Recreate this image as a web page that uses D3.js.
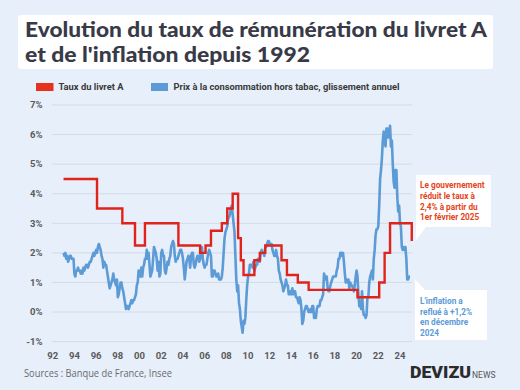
<!DOCTYPE html>
<html><head><meta charset="utf-8">
<script src="https://cdn.jsdelivr.net/npm/d3@7"></script>
<style>body{margin:0;background:#e7effb;} svg{display:block}</style>
</head><body><svg id="c" width="520" height="390"></svg>
<script>
// ---------- DATA ----------
const titleLines = ["Evolution du taux de rémunération du livret A", "et de l'inflation depuis 1992"];
const legendLabels = ["Taux du livret A", "Prix à la consommation hors tabac, glissement annuel"];
const yTickValues = [-1, 0, 1, 2, 3, 4, 5, 6, 7];
const xTickYears = [1992, 1994, 1996, 1998, 2000, 2002, 2004, 2006, 2008, 2010, 2012, 2014, 2016, 2018, 2020, 2022, 2024];
const xTickLabels = ["92", "94", "96", "98", "00", "02", "04", "06", "08", "10", "12", "14", "16", "18", "20", "22", "24"];

// Livret A rate: date of change (YYYY-MM) and new rate (%)
const rateDates = ["1993-01", "1996-02", "1998-06", "1999-08", "2000-07", "2003-08", "2005-08", "2006-02", "2006-08", "2007-08",
  "2008-02", "2008-08", "2009-02", "2009-05", "2009-08", "2010-08", "2011-02", "2011-08", "2013-02", "2013-08",
  "2014-08", "2015-08", "2020-02", "2022-02", "2022-08", "2023-02", "2025-02"];
const rateValues = [4.5, 3.5, 3.0, 2.25, 3.0, 2.25, 2.0, 2.25, 2.75, 3.0,
  3.5, 4.0, 2.5, 1.75, 1.25, 1.75, 2.0, 2.25, 1.75, 1.25,
  1.0, 0.75, 0.5, 1.0, 2.0, 3.0, 2.4];

// CPI excluding tobacco, year-on-year (%), monthly from January 1993
const inflationStart = "1993-01";
const inflationValues = [
  /*1993*/ 2.0, 1.9, 2.0, 1.8, 1.9, 1.7, 1.8, 1.9, 1.9, 1.8, 1.8, 1.8,
  /*1994*/ 1.3, 1.2, 1.4, 1.4, 1.5, 1.4, 1.4, 1.3, 1.4, 1.3, 1.5, 1.4,
  /*1995*/ 1.5, 1.6, 1.6, 1.5, 1.6, 1.7, 1.7, 1.8, 1.9, 2.0, 1.9, 2.0,
  /*1996*/ 2.1, 2.0, 2.2, 2.3, 2.2, 2.1, 1.9, 1.8, 1.5, 1.7, 1.6, 1.6,
  /*1997*/ 1.4, 1.2, 1.0, 0.8, 0.9, 1.0, 1.1, 1.3, 1.1, 1.0, 0.9, 1.1,
  /*1998*/ 0.5, 0.6, 0.8, 1.0, 1.0, 0.8, 0.7, 0.5, 0.3, 0.1, 0.2, 0.2,
  /*1999*/ 0.1, 0.2, 0.3, 0.4, 0.3, 0.4, 0.4, 0.5, 0.6, 0.9, 1.0, 1.4,
  /*2000*/ 1.3, 1.2, 1.5, 1.2, 1.5, 1.6, 1.8, 1.8, 2.1, 1.8, 2.0, 1.6,
  /*2001*/ 1.2, 1.3, 1.4, 1.8, 2.2, 2.1, 2.0, 1.8, 1.4, 1.7, 1.2, 1.3,
  /*2002*/ 2.0, 2.1, 1.9, 1.9, 1.4, 1.3, 1.5, 1.7, 1.6, 1.8, 1.9, 2.2,
  /*2003*/ 2.3, 2.4, 2.3, 1.9, 1.7, 1.8, 1.8, 1.9, 2.0, 2.1, 2.1, 2.0,
  /*2004*/ 1.8, 1.5, 1.1, 1.4, 1.7, 1.8, 1.9, 1.8, 1.5, 1.9, 2.0, 2.0,
  /*2005*/ 1.6, 1.5, 1.6, 1.8, 1.9, 1.9, 1.7, 1.8, 2.1, 2.2, 1.8, 1.6,
  /*2006*/ 1.5, 1.6, 1.6, 1.8, 2.0, 2.1, 2.0, 1.9, 1.2, 1.2, 1.4, 1.4,
  /*2007*/ 1.3, 1.2, 1.2, 1.3, 1.1, 1.1, 1.1, 1.2, 1.5, 2.0, 2.5, 2.7,
  /*2008*/ 2.8, 2.9, 3.2, 3.2, 3.3, 3.5, 3.6, 3.3, 3.0, 2.7, 1.9, 1.1,
  /*2009*/ 0.7, 0.9, 0.3, 0.1, -0.3, -0.5, -0.7, -0.3, -0.4, -0.2, 0.4, 0.9,
  /*2010*/ 1.2, 1.3, 1.6, 1.6, 1.6, 1.5, 1.7, 1.4, 1.5, 1.6, 1.6, 1.8,
  /*2011*/ 1.8, 1.7, 2.0, 2.1, 2.0, 2.0, 1.9, 2.2, 2.2, 2.3, 2.4, 2.4,
  /*2012*/ 2.3, 2.3, 2.3, 2.1, 2.0, 1.9, 1.9, 2.1, 1.9, 1.8, 1.4, 1.3,
  /*2013*/ 1.1, 1.0, 0.9, 0.7, 0.8, 0.9, 1.1, 0.9, 0.9, 0.6, 0.6, 0.7,
  /*2014*/ 0.6, 0.8, 0.6, 0.7, 0.7, 0.5, 0.5, 0.4, 0.3, 0.5, 0.4, 0.1,
  /*2015*/ -0.4, -0.3, 0.0, 0.1, 0.2, 0.2, 0.1, 0.0, 0.0, 0.1, 0.0, 0.2,
  /*2016*/ 0.2, -0.2, -0.1, -0.2, 0.1, 0.2, 0.2, 0.2, 0.4, 0.4, 0.5, 0.6,
  /*2017*/ 1.3, 1.2, 1.1, 1.2, 0.8, 0.7, 0.7, 0.9, 1.0, 1.1, 1.2, 1.2,
  /*2018*/ 1.2, 1.2, 1.4, 1.5, 1.8, 1.8, 2.0, 2.0, 1.9, 2.0, 1.7, 1.3,
  /*2019*/ 1.0, 1.1, 1.0, 1.1, 0.8, 1.0, 0.9, 0.9, 0.8, 0.7, 0.9, 1.2,
  /*2020*/ 1.4, 1.2, 0.6, 0.2, 0.3, 0.1, 0.7, 0.1, -0.1, -0.1, -0.2, -0.1,
  /*2021*/ 0.5, 0.5, 1.0, 1.2, 1.3, 1.4, 1.1, 1.8, 2.1, 2.6, 2.8, 2.8,
  /*2022*/ 2.9, 3.6, 4.5, 4.8, 5.2, 5.8, 6.1, 5.8, 5.6, 6.2, 6.2, 5.9,
  /*2023*/ 6.0, 6.3, 5.6, 5.8, 5.0, 4.4, 4.2, 4.8, 4.8, 3.9, 3.4, 3.6,
  /*2024*/ 3.0, 2.9, 2.2, 2.1, 2.2, 2.1, 2.2, 1.8, 1.1, 1.1, 1.2, 1.2
];

const noteRed = ["Le gouvernement", "réduit le taux à", "2,4% à partir du", "1er février 2025"];
const noteBlue = ["L'inflation a", "reflué à +1,2%", "en décembre", "2024"];
const sourceText = "Sources : Banque de France, Insee";

// ---------- DRAW ----------
const RED = "#e0231b", BLUE = "#5c9bd6";
const toYear = s => { const [y, m] = s.split("-").map(Number); return y + (m - 1) / 12; };
const svg = d3.select("#c");

svg.append("rect").attr("width", 520).attr("height", 390).attr("fill", "#e7effb");

// title box
svg.append("rect").attr("x", 18).attr("y", 15).attr("width", 475).attr("height", 54).attr("rx", 3).attr("fill", "#ffffff");
const titleWidths = [462, 285];
svg.selectAll("text.title").data(titleLines).join("text")
  .attr("x", 25).attr("y", (d, i) => 37 + i * 24.5)
  .attr("font-family", "Lato").attr("font-weight", 900).attr("font-size", 20)
  .attr("textLength", (d, i) => titleWidths[i]).attr("lengthAdjust", "spacingAndGlyphs")
  .attr("fill", "#393a48").text(d => d);

// legend
const lg = svg.append("g").attr("font-family", "Roboto").attr("font-weight", 700).attr("font-size", 9.5).attr("fill", "#3a3a3a");
lg.append("rect").attr("x", 36).attr("y", 83).attr("width", 17.5).attr("height", 8).attr("fill", "#e8311c");
lg.append("text").attr("x", 58.5).attr("y", 90.3).attr("textLength", 65).attr("lengthAdjust", "spacingAndGlyphs").text(legendLabels[0]);
lg.append("rect").attr("x", 151).attr("y", 83).attr("width", 17).attr("height", 8).attr("fill", BLUE);
lg.append("text").attr("x", 173.5).attr("y", 90.3).attr("textLength", 226).attr("lengthAdjust", "spacingAndGlyphs").text(legendLabels[1]);

// scales
const x = d3.scaleLinear().domain([1992, 2024]).range([52.7, 400]);
const y = d3.scaleLinear().domain([-1, 7]).range([341.6, 105]);

// grid
svg.append("g").selectAll("line").data(yTickValues).join("line")
  .attr("x1", 52).attr("x2", 412).attr("y1", d => y(d)).attr("y2", d => y(d))
  .attr("stroke", "#d3dbe7").attr("stroke-width", 1);

// y labels
svg.append("g").selectAll("text").data(yTickValues).join("text")
  .attr("x", 42.5).attr("y", d => y(d) + 3.3).attr("text-anchor", "end")
  .attr("font-family", "Roboto").attr("font-weight", 700).attr("font-size", 9.5).attr("fill", "#5a5a5a")
  .text(d => d + "%");

// x labels
svg.append("g").selectAll("text").data(xTickYears).join("text")
  .attr("x", d => x(d)).attr("y", 358.5).attr("text-anchor", "middle")
  .attr("font-family", "Roboto").attr("font-weight", 700).attr("font-size", 9.5).attr("fill", "#5a5a5a")
  .text((d, i) => xTickLabels[i]);

// inflation line
const t0 = toYear(inflationStart);
const infl = inflationValues.map((v, i) => ({ t: t0 + i / 12, v }));
svg.append("path").datum(infl)
  .attr("d", d3.line().x(d => x(d.t)).y(d => y(d.v)))
  .attr("fill", "none").attr("stroke", BLUE).attr("stroke-width", 2.6).attr("stroke-linejoin", "round");

// livret A line
const rate = rateDates.map((s, i) => ({ t: toYear(s), v: rateValues[i] }));
svg.append("path").datum(rate)
  .attr("d", d3.line().x(d => x(d.t)).y(d => y(d.v)).curve(d3.curveStepAfter))
  .attr("fill", "none").attr("stroke", RED).attr("stroke-width", 2.4);

// annotation red
svg.append("path")
  .attr("d", "M416,175 H491 V227 H426 L415.5,241 L416,227 Z")
  .attr("fill", "#ffffff");
svg.append("g").attr("transform", "translate(420,0) scale(0.86,1)")
  .selectAll("text").data(noteRed).join("text")
  .attr("x", 0).attr("y", (d, i) => 188.5 + i * 10.6)
  .attr("font-family", "Roboto").attr("font-weight", 700).attr("font-size", 9.6).attr("fill", "#e5441a")
  .text(d => d);

// annotation blue
svg.append("path")
  .attr("d", "M415,290 V279 L425,290 H487 V340 H415 Z")
  .attr("fill", "#ffffff");
svg.append("g").attr("transform", "translate(420,0) scale(0.86,1)")
  .selectAll("text").data(noteBlue).join("text")
  .attr("x", 0).attr("y", (d, i) => 304 + i * 10.6)
  .attr("font-family", "Roboto").attr("font-weight", 700).attr("font-size", 9.6).attr("fill", BLUE)
  .text(d => d);

// source
svg.append("text").attr("x", 24).attr("y", 377).attr("font-family", "Open Sans").attr("font-size", 10)
  .attr("textLength", 148).attr("lengthAdjust", "spacingAndGlyphs")
  .attr("fill", "#6a6a6a").text(sourceText);

// logo
svg.append("text").attr("x", 410).attr("y", 378).attr("font-family", "Roboto").attr("font-weight", 900)
  .attr("font-size", 17).attr("fill", "#2b2b2b").attr("textLength", 61).attr("lengthAdjust", "spacingAndGlyphs").text("DEVIZU");
svg.append("text").attr("x", 472).attr("y", 378).attr("font-family", "Roboto").attr("font-size", 8.5)
  .attr("fill", "#555").text("NEWS");
</script></body></html>
